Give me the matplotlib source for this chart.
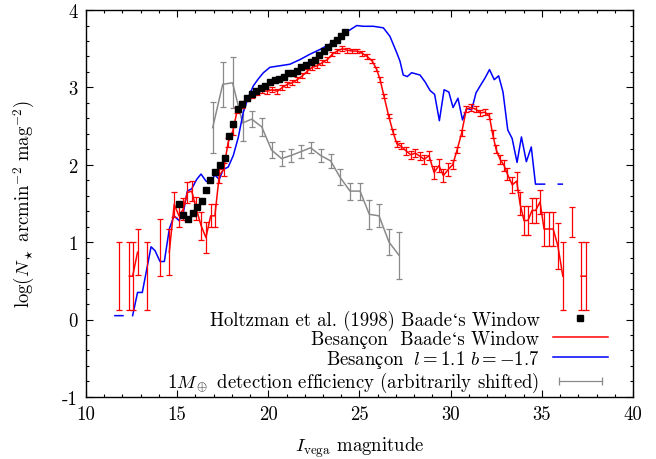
# Star counts vs magnitude, Baade's Window
import matplotlib
matplotlib.use('Agg')
import matplotlib.pyplot as plt
from matplotlib.lines import Line2D
from matplotlib.legend_handler import HandlerLine2D
import numpy as np

nan = np.nan

# Holtzman et al. (1998) counts
holtz_mag = [15.10, 15.34, 15.61, 15.89, 16.10, 16.38, 16.58, 16.82, 17.07, 17.35,
             17.62, 17.84, 18.08, 18.32, 18.57, 18.85, 19.10, 19.34, 19.60, 19.84,
             20.09, 20.35, 20.60, 20.84, 21.10, 21.33, 21.56, 21.82, 22.06, 22.32,
             22.55, 22.79, 23.05, 23.29, 23.53, 23.76, 24.00, 24.22]
holtz_logn = [1.49, 1.35, 1.30, 1.38, 1.45, 1.53, 1.68, 1.80, 1.91, 2.00,
              2.09, 2.37, 2.53, 2.72, 2.79, 2.86, 2.92, 2.96, 2.99, 3.02,
              3.07, 3.09, 3.11, 3.14, 3.18, 3.19, 3.21, 3.26, 3.29, 3.33,
              3.36, 3.42, 3.47, 3.52, 3.57, 3.61, 3.66, 3.71]

# Besancon model, Baade's Window (nan = empty bin)
bes_mag = [11.81, 12.10, 12.38, 12.56, 12.83, 13.05, 13.33, 13.70, 14.06, 14.30,
           14.57, 14.84, 15.10, 15.34, 15.56, 15.80, 16.05, 16.32, 16.58, 16.84,
           17.07, 17.31, 17.55, 17.80, 18.06, 18.30, 18.57, 18.85, 19.12, 19.40,
           19.68, 19.95, 20.22, 20.50, 20.77, 21.05, 21.32, 21.59, 21.87, 22.14,
           22.41, 22.69, 22.96, 23.24, 23.51, 23.78, 24.06, 24.33, 24.60, 24.88,
           25.15, 25.42, 25.70, 25.93, 26.13, 26.34, 26.60, 26.83, 27.05, 27.29,
           27.55, 27.81, 28.06, 28.32, 28.56, 28.81, 29.09, 29.36, 29.60, 29.87,
           30.11, 30.35, 30.60, 30.86, 31.10, 31.37, 31.63, 31.88, 32.12, 32.30,
           32.49, 32.71, 32.93, 33.11, 33.38, 33.62, 33.80, 34.02, 34.24, 34.46,
           34.66, 34.90, 35.12, 35.38, 35.62, 35.88, 36.15, 36.40, 36.66, 36.90,
           37.15, 37.42]
bes_logn = [0.56, nan, 0.56, 0.56, 0.87, nan, 0.56, nan, 0.93, nan,
            0.87, 1.49, 1.34, 1.43, 1.64, 1.66, 1.43, 1.21, 1.06, 1.34,
            1.34, 1.86, 1.94, 2.29, 2.44, 2.71, 2.78, 2.85, 2.89, 2.93,
            2.96, 2.95, 2.97, 2.95, 3.00, 3.04, 3.06, 3.10, 3.15, 3.21,
            3.26, 3.28, 3.32, 3.36, 3.43, 3.47, 3.50, 3.48, 3.47, 3.47,
            3.44, 3.40, 3.34, 3.24, 3.10, 2.89, 2.63, 2.43, 2.27, 2.24,
            2.18, 2.13, 2.15, 2.11, 2.07, 2.12, 1.90, 1.99, 1.86, 1.94,
            2.00, 2.19, 2.41, 2.72, 2.74, 2.72, 2.67, 2.68, 2.63, 2.40,
            2.20, 2.07, 1.99, 1.88, 1.74, 1.79, 1.50, 1.28, 1.28, 1.41,
            1.41, 1.52, 1.17, 1.17, 1.17, 0.95, 0.56, nan, 1.26, nan,
            0.56, 0.56]
bes_err = [0.44, nan, 0.44, 0.44, 0.30, nan, 0.44, nan, 0.37, nan,
           0.30, 0.16, 0.15, 0.14, 0.14, 0.13, 0.15, 0.18, 0.20, 0.15,
           0.15, 0.09, 0.08, 0.06, 0.05, 0.04, 0.04, 0.03, 0.03, 0.03,
           0.03, 0.03, 0.03, 0.03, 0.03, 0.03, 0.03, 0.03, 0.03, 0.03,
           0.03, 0.03, 0.03, 0.03, 0.03, 0.03, 0.03, 0.03, 0.03, 0.03,
           0.03, 0.03, 0.03, 0.03, 0.03, 0.03, 0.03, 0.03, 0.04, 0.04,
           0.05, 0.05, 0.05, 0.05, 0.06, 0.06, 0.08, 0.08, 0.08, 0.08,
           0.06, 0.04, 0.04, 0.04, 0.04, 0.04, 0.04, 0.04, 0.04, 0.05,
           0.05, 0.06, 0.07, 0.08, 0.10, 0.12, 0.15, 0.19, 0.19, 0.16,
           0.16, 0.15, 0.22, 0.22, 0.22, 0.30, 0.44, nan, 0.19, nan,
           0.44, 0.44]

# Besancon model, l=1.1 b=-1.7
field_mag = [11.59, 12.03, 12.30, 12.56, 12.83, 13.09, 13.57, 13.79, 14.06, 14.30,
             14.57, 14.83, 15.10, 15.34, 15.56, 15.80, 16.07, 16.31, 16.58, 16.80,
             17.07, 17.31, 17.53, 17.80, 18.08, 18.35, 18.63, 18.90, 19.18, 19.45,
             19.73, 20.09, 20.64, 21.19, 21.74, 22.29, 22.83, 23.38, 23.93, 24.39,
             24.85, 25.20, 25.76, 26.31, 26.67, 27.04, 27.22, 27.40, 27.62, 27.86,
             28.32, 28.60, 28.87, 29.12, 29.38, 29.64, 29.90, 30.13, 30.40, 30.65,
             30.88, 31.15, 31.39, 31.67, 31.88, 32.13, 32.39, 32.63, 32.87, 33.13,
             33.37, 33.64, 33.88, 34.15, 34.42, 34.65, 35.15, 35.50, 35.90, 36.12]
field_logn = [0.05, 0.05, nan, 0.05, 0.35, 0.35, 0.94, 0.89, 0.75, 0.75,
              1.17, 1.34, 1.28, 1.38, 1.66, 1.69, 1.81, 1.88, 1.79, 1.76,
              1.87, 1.81, 1.94, 1.97, 2.12, 2.35, 2.68, 2.87, 3.02, 3.11,
              3.19, 3.26, 3.28, 3.30, 3.36, 3.43, 3.49, 3.56, 3.64, 3.73,
              3.80, 3.79, 3.79, 3.77, 3.66, 3.45, 3.34, 3.16, 3.14, 3.19,
              3.16, 3.07, 2.96, 2.91, 2.57, 2.97, 2.94, 2.74, 2.86, 2.58,
              2.73, 2.71, 2.93, 3.04, 3.12, 3.23, 3.10, 3.15, 2.94, 2.45,
              2.34, 2.03, 2.36, 2.04, 2.23, 1.75, 1.75, nan, 1.75, 1.75]

# 1 Earth-mass detection efficiency (arbitrary shift)
eff_mag = [16.95, 17.50, 18.04, 18.59, 19.09, 19.64, 20.18, 20.73, 21.24, 21.79,
           22.32, 22.87, 23.42, 23.93, 24.48, 25.03, 25.54, 26.07, 26.62, 27.17]
eff_logn = [2.48, 3.04, 3.06, 2.54, 2.59, 2.49, 2.19, 2.08, 2.12, 2.17,
            2.22, 2.12, 2.05, 1.84, 1.66, 1.66, 1.36, 1.34, 1.00, 0.83]
eff_err = [0.33, 0.29, 0.33, 0.23, 0.10, 0.12, 0.10, 0.10, 0.09, 0.08,
           0.07, 0.09, 0.09, 0.10, 0.11, 0.11, 0.19, 0.15, 0.17, 0.30]

# the c-cedilla has to sit inside math text, cmr10 has no such glyph
labels = ['Holtzman et al. (1998) Baade\u2018s Window',
          'Besan\u00e7on  Baade\u2018s Window',
          '$\\mathrm{Besan\u00e7on}\\ \\ l = 1.1\\ b = -1.7$',
          '$1M_\\oplus$ detection efficiency (arbitrarily shifted)']


plt.rcParams['font.family'] = ['cmr10', 'STIXGeneral', 'DejaVu Serif']
plt.rcParams['mathtext.fontset'] = 'cm'
plt.rcParams['axes.unicode_minus'] = False
plt.rcParams['font.size'] = 13.5

fig, ax = plt.subplots(figsize=(6.56, 4.60), dpi=100)
fig.subplots_adjust(left=0.131, right=0.965, bottom=0.135, top=0.976)

# detection efficiency (grey)
ax.errorbar(eff_mag, eff_logn, yerr=eff_err, color='#8a8a8a', lw=1.1,
            elinewidth=0.9, capsize=2.5, capthick=0.9, zorder=2)
# Besancon l b field (blue)
ax.plot(field_mag, field_logn, color='#0000ff', lw=1.1, zorder=3)
# Besancon Baade's window (red)
ax.errorbar(bes_mag, bes_logn, yerr=bes_err, color='#ff0000', lw=1.1,
            elinewidth=0.9, capsize=2.2, capthick=0.9, zorder=4)
# Holtzman (black squares)
ax.plot(holtz_mag, holtz_logn, ls='none', marker='s', ms=4.5, color='black', zorder=5)

ax.set_xlim(10, 40)
ax.set_ylim(-1, 4)
ax.set_xticks([10, 15, 20, 25, 30, 35, 40])
ax.set_yticks([-1, 0, 1, 2, 3, 4])
ax.set_yticklabels(['-1', '0', '1', '2', '3', '4'])
ax.set_xticks(np.arange(10, 41, 1), minor=True)
ax.set_yticks(np.arange(-1, 4.01, 0.2), minor=True)
ax.tick_params(which='both', direction='in', top=True, right=True)
ax.tick_params(which='major', length=5, width=0.8, pad=6)
ax.tick_params(which='minor', length=2.5, width=0.8)
for s in ax.spines.values():
    s.set_linewidth(1.0)

ax.set_xlabel('$I_{\\rm vega}$ magnitude', labelpad=8.5)
ax.set_ylabel('$\\log(N_\\star\\ \\mathrm{arcmin}^{-2}\\ \\mathrm{mag}^{-2})$', labelpad=18)

# legend, text left of the sample
handles = [Line2D([], [], ls='none', marker='s', ms=4, color='black'),
           Line2D([], [], color='#ff0000', lw=1.1),
           Line2D([], [], color='#0000ff', lw=1.1),
           Line2D([], [], color='#8a8a8a', lw=0.9, marker='|', ms=6, mew=0.9)]
ax.legend(handles, labels, loc='lower right', bbox_to_anchor=(0.954, 0.007),
          frameon=False, markerfirst=False, handlelength=2.93, handletextpad=0.72,
          labelspacing=0.0, borderpad=0, borderaxespad=0,
          handler_map={handles[3]: HandlerLine2D(numpoints=2)})

fig.savefig('out.png', dpi=100)
